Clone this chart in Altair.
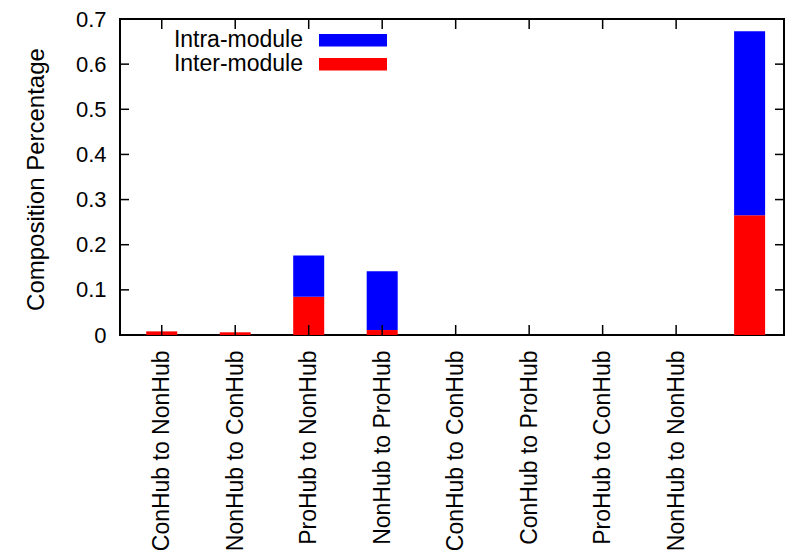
import json
import altair as alt
import pandas as pd

categories = ["ConHub to NonHub", "NonHub to ConHub", "ProHub to NonHub", "NonHub to ProHub",
              "ConHub to ConHub", "ConHub to ProHub", "ProHub to ConHub", "NonHub to NonHub", ""]
inter_module = [0.008, 0.006, 0.085, 0.011, 0.0, 0.0, 0.0, 0.0, 0.265]
intra_module = [0.0, 0.0, 0.091, 0.130, 0.0, 0.0, 0.0, 0.0, 0.408]
series_names = ["Intra-module", "Inter-module"]
series_colors = ["#0000ff", "#ff0000"]
y_ticks = [0, 0.1, 0.2, 0.3, 0.4, 0.5, 0.6, 0.7]

FONT = "Liberation Sans"
W, H = 664, 316

rows = []
for i, c in enumerate(categories):
    rows.append({"idx": i, "cat": c, "series": "Inter-module", "ord": 0, "value": inter_module[i]})
    rows.append({"idx": i, "cat": c, "series": "Intra-module", "ord": 1, "value": intra_module[i]})
df = pd.DataFrame(rows)

xscale = alt.Scale(domain=[-0.5, 8.4], nice=False, zero=False)
yscale = alt.Scale(domain=[0, 0.7], nice=False)

label_expr = json.dumps(categories) + "[datum.value]"

x_axis = alt.Axis(values=list(range(len(categories))), labelExpr=label_expr,
                  labelAngle=270, labelAlign="right", labelBaseline="middle",
                  labelPadding=15, ticks=False, domain=False, grid=False,
                  labelFont=FONT, labelFontSize=23, labelColor="black", labelLimit=400,
                  title=None, labelOverlap=False)
y_axis = alt.Axis(values=y_ticks, ticks=False, domain=False, grid=False,
                  labelExpr="datum.value == 0 ? '0' : format(datum.value, '.1f')",
                  labelPadding=14, labelFont=FONT, labelFontSize=22, labelColor="black",
                  title="Composition Percentage", titleFont=FONT, titleFontSize=24,
                  titleFontWeight="normal", titleColor="black", titleAngle=270,
                  titleX=-84, titleY=H / 2 + 2, titleAlign="center", titleBaseline="middle")

bars = alt.Chart(df).mark_bar(width=31).encode(
    x=alt.X("idx:Q", scale=xscale, axis=x_axis, title=None),
    y=alt.Y("value:Q", stack="zero", scale=yscale, axis=y_axis, title="Composition Percentage"),
    color=alt.Color("series:N", scale=alt.Scale(domain=series_names, range=series_colors), legend=None),
    order=alt.Order("ord:Q"),
)

ytick_df = pd.DataFrame({"value": y_ticks})
xtick_df = pd.DataFrame({"idx": [i for i, c in enumerate(categories) if c]})

ytick_left = alt.Chart(ytick_df).mark_rule(color="black", strokeWidth=1.5).encode(
    y=alt.Y("value:Q", scale=yscale, axis=y_axis, title="Composition Percentage"),
    x=alt.value(0), x2=alt.value(9))
ytick_right = alt.Chart(ytick_df).mark_rule(color="black", strokeWidth=1.5).encode(
    y=alt.Y("value:Q", scale=yscale, axis=y_axis, title="Composition Percentage"),
    x=alt.value(W - 9), x2=alt.value(W))
xtick_bottom = alt.Chart(xtick_df).mark_rule(color="black", strokeWidth=1.5).encode(
    x=alt.X("idx:Q", scale=xscale, axis=x_axis, title=None), y=alt.value(H - 10), y2=alt.value(H))
xtick_top = alt.Chart(xtick_df).mark_rule(color="black", strokeWidth=1.5).encode(
    x=alt.X("idx:Q", scale=xscale, axis=x_axis, title=None), y=alt.value(0), y2=alt.value(10))

legend_layers = []
for k, (name, col) in enumerate(zip(series_names, series_colors)):
    ldf = pd.DataFrame({"series": [name]})
    legend_layers.append(
        alt.Chart(ldf).mark_rect(color=col).encode(
            x=alt.value(199), x2=alt.value(267),
            y=alt.value(15 + 24 * k), y2=alt.value(27.5 + 24 * k)))
    legend_layers.append(
        alt.Chart(ldf).mark_text(align="right", baseline="middle", font=FONT, fontSize=23,
                                 color="black").encode(
            text="series:N", x=alt.value(183), y=alt.value(21 + 24 * k)))

chart = alt.layer(bars, ytick_left, ytick_right, xtick_bottom, xtick_top, *legend_layers).properties(
    width=W, height=H,
    background="white",
    autosize=alt.AutoSizeParams(type="none"),
    padding={"left": 120, "top": 19, "right": 1, "bottom": 225},
).configure_view(stroke="black", strokeWidth=2)

chart.save("out.html", embed_options={"renderer": "svg", "actions": False})
